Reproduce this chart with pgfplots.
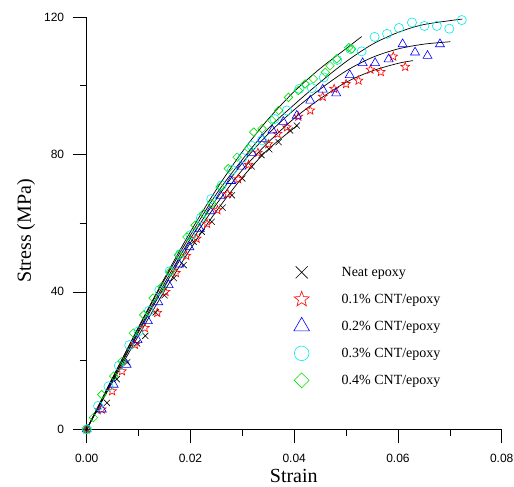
\documentclass[border=0pt]{standalone}
\usepackage{fontspec}
\setmainfont{Liberation Serif}
\newfontfamily\arialf{Liberation Sans}
\usepackage{pgfplots}
\pgfplotsset{compat=1.18}
\usetikzlibrary{plotmarks}
\definecolor{mygreen}{RGB}{0,225,0}
\definecolor{mycyan}{RGB}{0,235,235}
\pgfdeclareplotmark{ostar}{%
 \pgfpathmoveto{\pgfpointpolar{90}{\pgfplotmarksize}}%
 \pgfpathlineto{\pgfpointpolar{126}{0.42\pgfplotmarksize}}%
 \pgfpathlineto{\pgfpointpolar{162}{\pgfplotmarksize}}%
 \pgfpathlineto{\pgfpointpolar{198}{0.42\pgfplotmarksize}}%
 \pgfpathlineto{\pgfpointpolar{234}{\pgfplotmarksize}}%
 \pgfpathlineto{\pgfpointpolar{270}{0.42\pgfplotmarksize}}%
 \pgfpathlineto{\pgfpointpolar{306}{\pgfplotmarksize}}%
 \pgfpathlineto{\pgfpointpolar{342}{0.42\pgfplotmarksize}}%
 \pgfpathlineto{\pgfpointpolar{18}{\pgfplotmarksize}}%
 \pgfpathlineto{\pgfpointpolar{54}{0.42\pgfplotmarksize}}%
 \pgfpathclose\pgfusepathqstroke}
\begin{document}
\begin{tikzpicture}
\path[use as bounding box] (-86.7pt,-57.7pt) rectangle (427.3pt,429.3pt);
\begin{axis}[
 at={(0pt,0pt)}, anchor=south west,
 width=415pt, height=412.3pt, scale only axis,
 xmin=0, xmax=0.08, ymin=0, ymax=120,
 clip=false,
 scaled x ticks=false, scaled y ticks=false,
 axis lines=left, axis line style={-, line width=0.6pt},
 xtick={0,0.02,0.04,0.06,0.08},
 xticklabels={0.00,0.02,0.04,0.06,0.08},
 minor xtick={0.01,0.03,0.05,0.07},
 ytick={0,40,80,120},
 minor ytick={20,60,100},
 tick align=outside,
 major tick length=14pt, minor tick length=7pt,
 every tick/.style={black, line width=0.6pt},
 tick label style={font=\arialf\fontsize{12}{14}\selectfont},
 xticklabel shift=7pt,
 yticklabel shift=5pt,
 /pgf/number format/assume math mode=true,
 xlabel={Strain}, ylabel={Stress (MPa)},
 xlabel style={font=\fontsize{20}{22}\selectfont, at={(axis description cs:0.499,-0.130)}, anchor=base},
 ylabel style={font=\fontsize{20}{22}\selectfont, at={(axis description cs:-0.146,0.481)}, anchor=center},
 legend style={draw=none, fill=none, font=\fontsize{14}{16}\selectfont,
   at={(axis cs:0.03855,48.3)}, anchor=north west, inner sep=0pt, outer sep=0pt,
   row sep=9pt, column sep=24pt, nodes={inner sep=1pt}},
 legend cell align=left,
 legend image code/.code={\path[draw=none,fill=none] (0pt,-9pt) rectangle (30pt,9pt); \draw[#1] plot coordinates {(15pt,0pt)};},
]
\addlegendimage{black, mark=x, mark size=8.5pt, line width=0.6pt}
\addlegendentry{Neat epoxy}
\addlegendimage{red, mark=ostar, mark size=8pt, line width=0.6pt}
\addlegendentry{0.1\% CNT/epoxy}
\addlegendimage{blue, mark=triangle, mark size=9pt, line width=0.6pt}
\addlegendentry{0.2\% CNT/epoxy}
\addlegendimage{mycyan, mark=o, mark size=7.3pt, line width=0.6pt}
\addlegendentry{0.3\% CNT/epoxy}
\addlegendimage{mygreen, mark=square, mark size=5.3pt, mark options={rotate=45}, line width=0.6pt}
\addlegendentry{0.4\% CNT/epoxy}
% data markers
\addplot[only marks, mark=x, mark size=4.3pt, black, line width=0.6pt, forget plot] coordinates {
(0,0) (0.0021,5.3) (0.0039,7.7) (0.0058,14.6) (0.0078,19.5) (0.0097,25.0) (0.0113,27.2)
(0.0133,34) (0.0150,39) (0.0168,44) (0.0187,47.8) (0.0206,54.6) (0.0222,57.5) (0.0241,60.4)
(0.0262,64.5) (0.0280,68.1) (0.0300,73) (0.0318,76.5) (0.0337,79.8) (0.0352,81.5) (0.0370,83.6)
(0.0392,87.0) (0.0405,88.4)};
\addplot[only marks, mark=ostar, mark size=4.6pt, red, line width=0.6pt, forget plot] coordinates {
(0,0) (0.0029,5.8) (0.0049,11.1) (0.0068,16.9) (0.0093,24.6) (0.0112,29.5) (0.0136,33.9)
(0.0152,40.0) (0.0172,45.5) (0.0192,50.5) (0.0212,55.5) (0.0232,59.8) (0.0252,63.8) (0.0272,68.5)
(0.0292,72.8) (0.0312,77.0) (0.0330,80.5) (0.0350,83.0) (0.0368,86.0) (0.0386,87.9) (0.0408,91.0)
(0.0431,92.8) (0.0455,96.8) (0.0477,99.1) (0.0500,100.5) (0.0524,101.5) (0.0547,104.7)
(0.0567,104.0) (0.0591,108.5) (0.0614,105.5)};
\addplot[only marks, mark=triangle, mark size=5.2pt, blue, line width=0.6pt, forget plot] coordinates {
(0,0) (0.0029,5.8) (0.0052,13.0) (0.0077,18.8) (0.0098,26.0) (0.0118,31.5) (0.0138,37.0)
(0.0158,42.0) (0.0178,48.0) (0.0198,53.0) (0.0218,58.3) (0.0238,63.5) (0.0258,68.0) (0.0278,72.3)
(0.0298,76.5) (0.0318,80.5) (0.0338,84.5) (0.0358,87.0) (0.0379,89.5) (0.0405,91.3) (0.0431,95.7)
(0.0455,98.9) (0.0481,97.8) (0.0507,103.1) (0.0532,106.6) (0.0556,106.6) (0.0582,107.7)
(0.0609,112.1) (0.0633,109.7) (0.0657,108.7) (0.0681,112.1)};
\addplot[only marks, mark=o, mark size=4.6pt, mycyan, line width=0.6pt, forget plot] coordinates {
(0,0) (0.0022,6.8) (0.0042,12.5) (0.0062,18.5) (0.0082,24.5) (0.0100,28.5) (0.0120,34.5)
(0.0140,40.5) (0.0160,46.0) (0.0180,51.0) (0.0200,56.5) (0.0220,61.5) (0.0240,67.0) (0.0260,71.0)
(0.0280,75.5) (0.0300,79.0) (0.0318,82.5) (0.0338,84.1) (0.0362,90.3) (0.0386,92.8) (0.0410,99.1)
(0.0434,99.3) (0.0457,102.4) (0.0483,107.5) (0.0508,110.7) (0.0530,110.0) (0.0555,114.2)
(0.0579,115.1) (0.0602,116.8) (0.0627,118.4) (0.0651,117.4) (0.0675,117.4) (0.0699,116.6)
(0.0723,119.1)};
\addplot[only marks, mark=square, mark size=3.0pt, mark options={rotate=45}, mygreen, line width=0.6pt, forget plot] coordinates {
(0,0) (0.0013,3.4) (0.0029,10.1) (0.0052,15.5) (0.0068,19.8) (0.0090,28.0) (0.0110,33.3)
(0.0128,38.2) (0.0145,41.5) (0.0161,45.9) (0.0177,50.7) (0.0193,56.0) (0.0209,59.4) (0.0225,62.8)
(0.0241,65.7) (0.0257,70.5) (0.0273,75.9) (0.0290,79.2) (0.0312,81.7) (0.0322,86.5) (0.0338,87.5)
(0.0357,89.9) (0.0370,92.8) (0.0389,96.6) (0.0408,98.6) (0.0421,100.5) (0.0437,102.0)
(0.0460,103.9) (0.0469,105.8) (0.0482,107.8) (0.0505,111.1) (0.0511,110.7)};
% fitted curves
\addplot[black, line width=0.7pt, smooth, forget plot] coordinates {
(0,0) (0.005,13.8) (0.01,27.3) (0.015,40.3) (0.02,52.5) (0.025,63.5) (0.03,73.3) (0.035,81.5) (0.0406,88.4)};
\addplot[black, line width=0.7pt, smooth, forget plot] coordinates {
(0,0) (0.005,14.3) (0.01,28.3) (0.015,41.7) (0.02,54.3) (0.025,65.5) (0.03,75.5) (0.035,83.5)
(0.04,90.5) (0.045,96.2) (0.05,101) (0.055,104.3) (0.06,106.5) (0.0629,107.3)};
\addplot[black, line width=0.7pt, smooth, forget plot] coordinates {
(0,0) (0.005,14.5) (0.01,28.8) (0.015,42.5) (0.02,55.5) (0.025,67) (0.03,77.5) (0.035,86)
(0.04,93) (0.045,99) (0.05,104.3) (0.055,108.2) (0.06,110.7) (0.065,112.1) (0.0701,112.8)};
\addplot[black, line width=0.7pt, smooth, forget plot] coordinates {
(0,0) (0.005,15) (0.01,29.5) (0.015,43.5) (0.02,56.5) (0.025,68.5) (0.03,78.5) (0.035,87.5)
(0.04,94.5) (0.045,101) (0.05,107) (0.055,112) (0.06,115.5) (0.065,117.8) (0.0724,119.4)};
\addplot[black, line width=0.7pt, smooth, forget plot] coordinates {
(0,0) (0.005,15) (0.01,29.8) (0.015,44) (0.02,57.5) (0.025,69.8) (0.03,80.8) (0.035,90.3)
(0.04,98.3) (0.045,105) (0.05,110.8) (0.053,114.3)};
\end{axis}
\end{tikzpicture}
\end{document}
